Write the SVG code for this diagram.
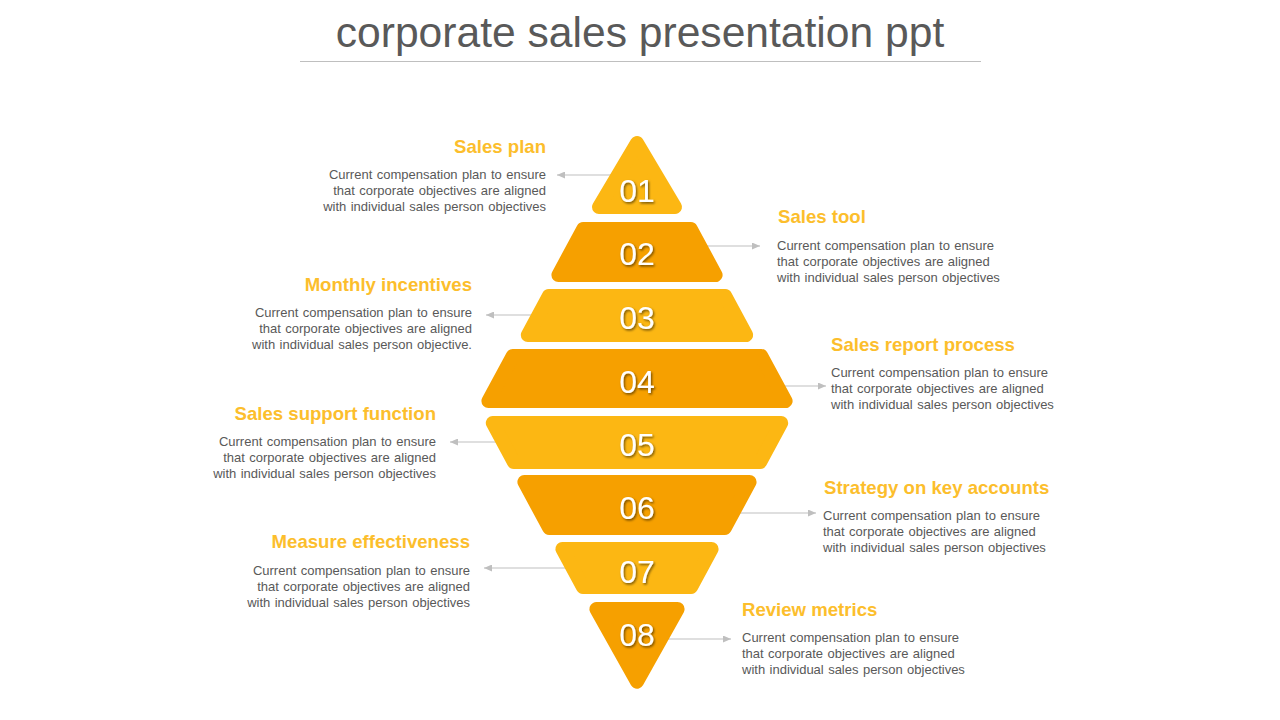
<svg xmlns="http://www.w3.org/2000/svg" width="1280" height="720" viewBox="0 0 1280 720">
<defs>
<style>
.bg{fill:#ffffff}
.title{font-family:"Liberation Sans",Arial,sans-serif;font-size:42.6px;fill:#595959;text-anchor:middle}
.odd{fill:#FCB713;stroke:#FCB713;stroke-width:14;stroke-linejoin:round}
.even{fill:#F6A000;stroke:#F6A000;stroke-width:14;stroke-linejoin:round}
.num{font-family:"Liberation Sans",Arial,sans-serif;font-size:32px;fill:#ffffff;text-anchor:middle;filter:url(#sh)}
.head{font-family:"Liberation Sans",Arial,sans-serif;font-size:18.6px;font-weight:bold;fill:#FCBE2C}
.body{font-family:"Liberation Sans",Arial,sans-serif;font-size:13px;fill:#595959;word-spacing:0.8px}
.l{text-anchor:end}
.r{text-anchor:start}
.conn line{stroke:#BFBFBF;stroke-width:1;marker-end:url(#ah)}
</style>
<marker id="ah" markerWidth="9" markerHeight="7" refX="8" refY="3.5" orient="auto" markerUnits="userSpaceOnUse">
<path d="M0,0 L8,3.5 L0,7 z" fill="#BFBFBF"/>
</marker>
<filter id="sh" x="-20%" y="-20%" width="140%" height="140%">
<feDropShadow dx="1.2" dy="1.5" stdDeviation="0.8" flood-color="#000000" flood-opacity="0.55"/>
</filter>
</defs>
<rect class="bg" x="0" y="0" width="1280" height="720"/>
<g id="title">
<text class="title" x="640" y="47">corporate sales presentation ppt</text>
<line x1="300" y1="61.5" x2="981" y2="61.5" stroke="#BFBFBF" stroke-width="1"/>
</g>
<g id="connectors" class="conn">
<line x1="612" y1="175" x2="557" y2="175"/>
<line x1="704" y1="246" x2="760" y2="246"/>
<line x1="532" y1="315" x2="486" y2="315"/>
<line x1="783" y1="386" x2="826" y2="386"/>
<line x1="497" y1="442" x2="450" y2="442"/>
<line x1="739" y1="513" x2="816" y2="513"/>
<line x1="566" y1="568" x2="484" y2="568"/>
<line x1="668" y1="639" x2="731" y2="639"/>
</g>
<g id="node-01">
<polygon class="odd" points="637,143 675,207 599,207"/>
<text class="num" x="637" y="202">01</text>
<text class="head l" x="546" y="153">Sales plan</text>
<text class="body l" x="546" y="179">Current compensation plan to ensure</text>
<text class="body l" x="546" y="195">that corporate objectives are aligned</text>
<text class="body l" x="546" y="211">with individual sales person objectives</text>
</g>
<g id="node-02">
<polygon class="even" points="583.2,229 690.8,229 715.6,275 558.4,275"/>
<text class="num" x="637" y="265">02</text>
<text class="head r" x="778" y="223">Sales tool</text>
<text class="body r" x="777" y="250">Current compensation plan to ensure</text>
<text class="body r" x="777" y="266">that corporate objectives are aligned</text>
<text class="body r" x="777" y="282">with individual sales person objectives</text>
</g>
<g id="node-03">
<polygon class="odd" points="548.8,296 725.2,296 746.2,335 527.8,335"/>
<text class="num" x="637" y="328.5">03</text>
<text class="head l" x="472" y="291">Monthly incentives</text>
<text class="body l" x="472" y="317">Current compensation plan to ensure</text>
<text class="body l" x="472" y="333">that corporate objectives are aligned</text>
<text class="body l" x="472" y="349">with individual sales person objective.</text>
</g>
<g id="node-04">
<polygon class="even" points="512.7,356 761.3,356 785.6,401 488.4,401"/>
<text class="num" x="637" y="392.5">04</text>
<text class="head r" x="831" y="351">Sales report process</text>
<text class="body r" x="831" y="377">Current compensation plan to ensure</text>
<text class="body r" x="831" y="393">that corporate objectives are aligned</text>
<text class="body r" x="831" y="409">with individual sales person objectives</text>
</g>
<g id="node-05">
<polygon class="odd" points="492.8,423 781.2,423 760.2,462 513.8,462"/>
<text class="num" x="637" y="455.5">05</text>
<text class="head l" x="436" y="420">Sales support function</text>
<text class="body l" x="436" y="446">Current compensation plan to ensure</text>
<text class="body l" x="436" y="462">that corporate objectives are aligned</text>
<text class="body l" x="436" y="478">with individual sales person objectives</text>
</g>
<g id="node-06">
<polygon class="even" points="524.4,482 749.6,482 724.8,528 549.2,528"/>
<text class="num" x="637" y="519">06</text>
<text class="head r" x="824" y="494">Strategy on key accounts</text>
<text class="body r" x="823" y="520">Current compensation plan to ensure</text>
<text class="body r" x="823" y="536">that corporate objectives are aligned</text>
<text class="body r" x="823" y="552">with individual sales person objectives</text>
</g>
<g id="node-07">
<polygon class="odd" points="562.4,549 711.6,549 691.1,587 582.9,587"/>
<text class="num" x="637" y="582.5">07</text>
<text class="head l" x="470" y="548">Measure effectiveness</text>
<text class="body l" x="470" y="575">Current compensation plan to ensure</text>
<text class="body l" x="470" y="591">that corporate objectives are aligned</text>
<text class="body l" x="470" y="607">with individual sales person objectives</text>
</g>
<g id="node-08">
<polygon class="even" points="596.4,609 677.6,609 637,681.7"/>
<text class="num" x="637" y="645.5">08</text>
<text class="head r" x="742" y="616">Review metrics</text>
<text class="body r" x="742" y="642">Current compensation plan to ensure</text>
<text class="body r" x="742" y="658">that corporate objectives are aligned</text>
<text class="body r" x="742" y="674">with individual sales person objectives</text>
</g>
</svg>
